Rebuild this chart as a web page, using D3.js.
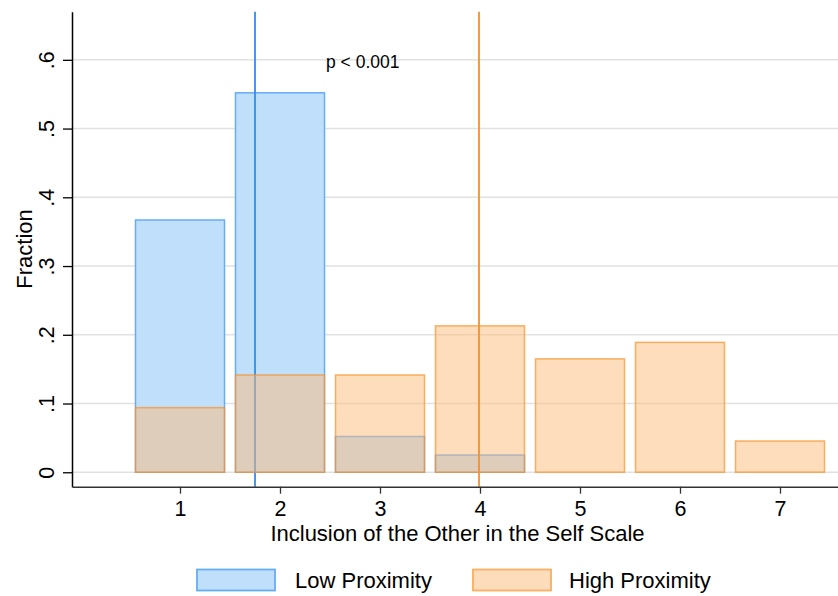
<!DOCTYPE html>
<html>
<head>
<meta charset="utf-8">
<script src="https://cdn.jsdelivr.net/npm/d3@7"></script>
<style>
  body { margin: 0; background: #fff; }
  text { font-family: "Liberation Sans", Arial, Helvetica, sans-serif; fill: #000; }
</style>
</head>
<body>
<svg id="chart" width="838" height="596"></svg>
<script>
const categories = [1, 2, 3, 4, 5, 6, 7];
const lowProximity = [0.367, 0.552, 0.052, 0.025, 0, 0, 0];
const highProximity = [0.094, 0.1415, 0.1415, 0.213, 0.165, 0.189, 0.0455];
const lowMean = 1.75;
const highMean = 3.99;
const yTicks = [0, 0.1, 0.2, 0.3, 0.4, 0.5, 0.6];
const yTickLabels = ["0", ".1", ".2", ".3", ".4", ".5", ".6"];
const xTicks = [1, 2, 3, 4, 5, 6, 7];
const seriesNames = ["Low Proximity", "High Proximity"];

(function() {
const svg = d3.select("#chart");
const pL = 72, pR = 838, pT = 11.7, pB = 486.7;
const x = d3.scaleLinear().domain([-0.08, 7.58]).range([pL, pR]);
const y = d3.scaleLinear().domain([-0.021, 0.67]).range([pB, pT]);
const barW = 0.89;

// grid
svg.append("g").selectAll("line").data(yTicks).join("line")
  .attr("x1", pL).attr("x2", pR)
  .attr("y1", d => y(d)).attr("y2", d => y(d))
  .attr("stroke", "#e1e1e1").attr("stroke-width", 1.5);

const blueFill = "#bfdffb", blueStroke = "#66adf7";
const orangeFill = "rgba(251,187,121,0.5)", orangeStroke = "rgba(250,145,40,0.7)";

// low proximity bars
svg.append("g").selectAll("rect").data(categories.map((c, i) => ({c, v: lowProximity[i]})).filter(d => d.v > 0))
  .join("rect")
  .attr("x", d => x(d.c - barW / 2)).attr("width", d => x(d.c + barW / 2) - x(d.c - barW / 2))
  .attr("y", d => y(d.v)).attr("height", d => y(0) - y(d.v))
  .attr("fill", blueFill).attr("stroke", blueStroke).attr("stroke-width", 1.5);

// low mean line
svg.append("line")
  .attr("x1", x(lowMean)).attr("x2", x(lowMean)).attr("y1", pT).attr("y2", pB)
  .attr("stroke", "#2b8ff2").attr("stroke-width", 1.8);

// high proximity bars
svg.append("g").selectAll("rect").data(categories.map((c, i) => ({c, v: highProximity[i]})))
  .join("rect")
  .attr("x", d => x(d.c - barW / 2)).attr("width", d => x(d.c + barW / 2) - x(d.c - barW / 2))
  .attr("y", d => y(d.v)).attr("height", d => y(0) - y(d.v))
  .attr("fill", orangeFill).attr("stroke", orangeStroke).attr("stroke-width", 1.5);

// high mean line
svg.append("line")
  .attr("x1", x(highMean)).attr("x2", x(highMean)).attr("y1", pT).attr("y2", pB)
  .attr("stroke", "#f7902a").attr("stroke-width", 1.8);

// y axis
const yAxis = d3.axisLeft(y).tickValues(yTicks).tickFormat((d, i) => yTickLabels[i]).tickSize(9).tickSizeOuter(0);
const gy = svg.append("g").attr("transform", `translate(${pL},0)`).call(yAxis);
gy.select(".domain").attr("stroke", "#000").attr("stroke-width", 1.5);
gy.selectAll(".tick line").attr("stroke", "#000").attr("stroke-width", 1.3);
gy.selectAll(".tick text")
  .attr("font-size", 21.5)
  .attr("x", null).attr("dy", null)
  .attr("text-anchor", "middle")
  .attr("transform", "translate(-18.5,0) rotate(-90)")
  .attr("y", 0);

// x axis
const xAxis = d3.axisBottom(x).tickValues(xTicks).tickFormat(d3.format("d")).tickSize(7).tickSizeOuter(0);
const gx = svg.append("g").attr("transform", `translate(0,${pB})`).call(xAxis);
gx.select(".domain").attr("stroke", "#333").attr("stroke-width", 1.5);
gx.selectAll(".tick line").attr("stroke", "#333").attr("stroke-width", 1.3);
gx.selectAll(".tick text").attr("font-size", 21.5).attr("y", 14.5).attr("dy", "0.71em");

// axis titles
svg.append("text").attr("x", 457.5).attr("y", 541).attr("text-anchor", "middle")
  .attr("font-size", 22).text("Inclusion of the Other in the Self Scale");
svg.append("text").attr("transform", "translate(32,249) rotate(-90)").attr("text-anchor", "middle")
  .attr("font-size", 22).text("Fraction");

// annotation
svg.append("text").attr("x", 326).attr("y", 68).attr("font-size", 17.5).text("p < 0.001");

// legend
const legend = svg.append("g");
const legendItems = [
  {name: seriesNames[0], fill: blueFill, stroke: blueStroke, bx: 197, tx: 295},
  {name: seriesNames[1], fill: "#fddcbc", stroke: "#f9ae60", bx: 473, tx: 569}
];
legendItems.forEach(d => {
  legend.append("rect").attr("x", d.bx).attr("y", 569.5).attr("width", 78).attr("height", 21)
    .attr("fill", d.fill).attr("stroke", d.stroke).attr("stroke-width", 1.8);
  legend.append("text").attr("x", d.tx).attr("y", 588).attr("font-size", 22).text(d.name);
});
})();
</script>
</body>
</html>
